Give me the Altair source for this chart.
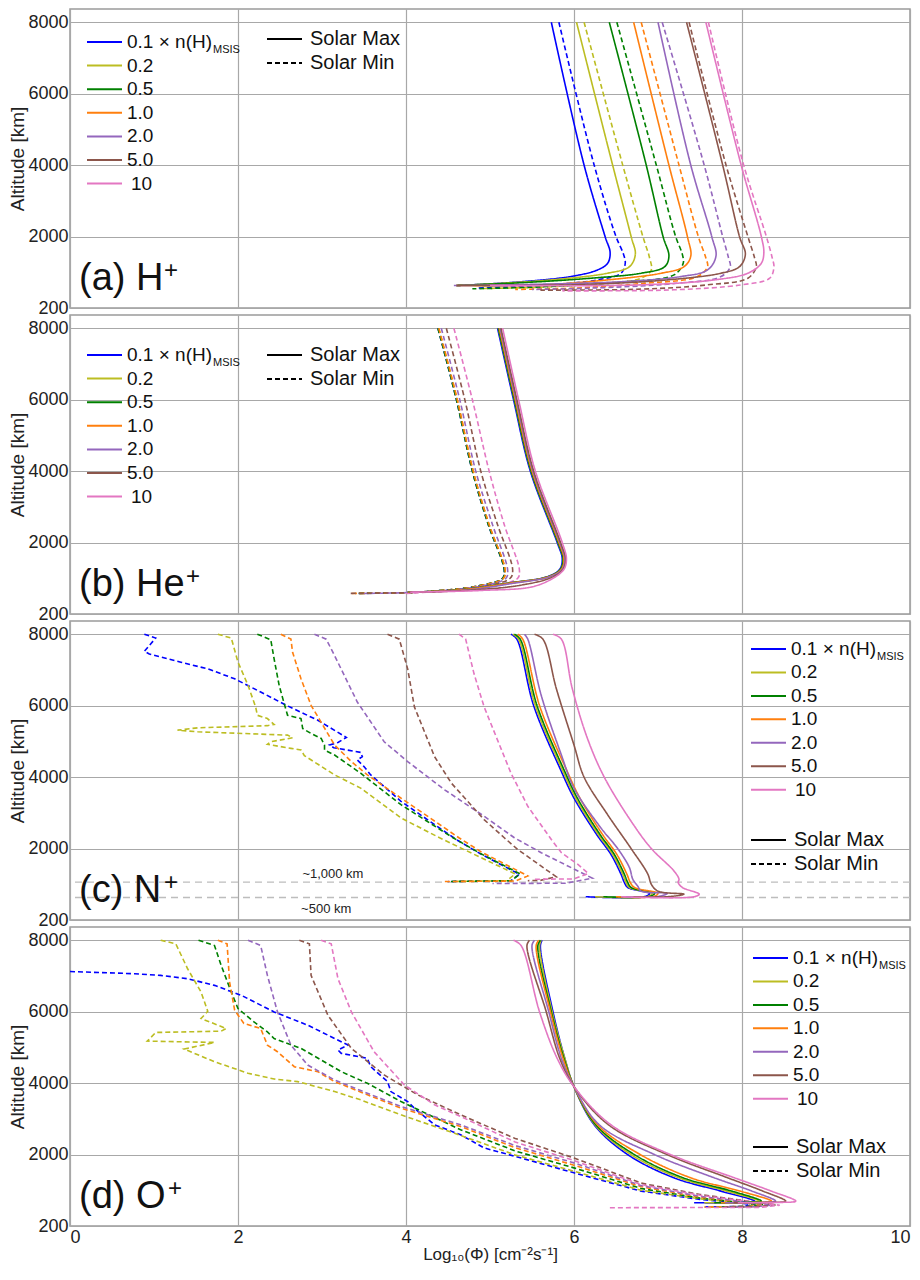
import altair as alt
import pandas as pd

FACTORS = ["0.1", "0.2", "0.5", "1.0", "2.0", "5.0", "10"]
COLORS = ["#0000ff", "#bcbd22", "#008000", "#ff7f0e", "#9467bd", "#8c564b", "#e377c2"]
LEGEND_LABELS = ["0.1 × n(H)", "0.2", "0.5", "1.0", "2.0", "5.0", "10"]

# (x = log10 flux, altitude km) points, top to bottom
# (a) H+
H_MAX = {
    "0.1": [(5.73, 8000), (6.12, 4000), (6.37, 2000), (6.43, 1550), (6.40, 1250), (6.28, 1066), (5.96, 880), (5.40, 740), (4.93, 667), (4.60, 630)],
    "0.2": [(6.03, 8000), (6.46, 4000), (6.68, 2000), (6.73, 1500), (6.66, 1157), (6.40, 974), (5.73, 787), (5.01, 676), (4.60, 630)],
    "0.5": [(6.42, 8000), (6.86, 4000), (7.06, 2000), (7.13, 1450), (7.08, 1157), (6.80, 974), (6.20, 834), (5.41, 713), (4.60, 630)],
    "1.0": [(6.71, 8000), (7.13, 4000), (7.35, 2000), (7.39, 1450), (7.31, 1157), (7.04, 974), (6.40, 787), (5.61, 648), (4.60, 630)],
    "2.0": [(7.00, 8000), (7.39, 4000), (7.64, 2000), (7.69, 1450), (7.59, 1066), (7.27, 880), (6.60, 740), (5.21, 648), (4.57, 630)],
    "5.0": [(7.34, 8000), (7.77, 4000), (7.97, 2000), (8.04, 1500), (7.97, 1157), (7.75, 974), (7.11, 787), (6.00, 648), (4.60, 630)],
    "10": [(7.57, 8000), (7.99, 4000), (8.23, 2000), (8.26, 1550), (8.23, 1252), (8.07, 974), (7.67, 787), (6.80, 648), (5.00, 630)],
}
H_MIN = {
    "0.1": [(5.82, 8000), (6.24, 4000), (6.50, 2000), (6.59, 1500), (6.61, 1252), (6.56, 974), (6.28, 787), (5.73, 648), (5.21, 584), (4.85, 560)],
    "0.2": [(6.12, 8000), (6.58, 4000), (6.82, 2000), (6.90, 1400), (6.92, 1066), (6.80, 834), (6.32, 685), (5.61, 584), (4.90, 545)],
    "0.5": [(6.51, 8000), (6.98, 4000), (7.21, 2000), (7.29, 1500), (7.30, 1252), (7.19, 926), (6.60, 731), (5.61, 592), (4.79, 537)],
    "1.0": [(6.80, 8000), (7.25, 4000), (7.48, 2000), (7.57, 1400), (7.59, 1157), (7.47, 880), (6.80, 685), (6.00, 556), (5.30, 520)],
    "2.0": [(7.05, 8000), (7.55, 4000), (7.77, 2000), (7.84, 1400), (7.86, 1157), (7.75, 880), (7.19, 685), (6.20, 556), (5.50, 520)],
    "5.0": [(7.37, 8000), (7.81, 4000), (8.07, 2000), (8.15, 1400), (8.17, 1157), (8.07, 834), (7.59, 648), (6.80, 528), (5.60, 500)],
    "10": [(7.60, 8000), (8.02, 4000), (8.29, 2000), (8.36, 1400), (8.38, 1150), (8.33, 834), (7.99, 648), (7.19, 509), (5.86, 481)],
}

# (b) He+
HE_MAX = {
    "0.1": [(5.09, 8000), (5.28, 6000), (5.48, 4000), (5.80, 2000), (5.86, 1550), (5.83, 1250), (5.68, 1043), (5.20, 860), (4.73, 700), (4.30, 630), (4.02, 610)],
    "0.2": [(5.10, 8000), (5.29, 6000), (5.49, 4000), (5.81, 2000), (5.87, 1550), (5.84, 1250), (5.69, 1043), (5.21, 860), (4.74, 700), (4.30, 630), (4.02, 610)],
    "0.5": [(5.10, 8000), (5.29, 6000), (5.49, 4000), (5.81, 2000), (5.87, 1550), (5.84, 1250), (5.69, 1043), (5.22, 860), (4.75, 700), (4.31, 630), (4.03, 610)],
    "1.0": [(5.11, 8000), (5.30, 6000), (5.50, 4000), (5.82, 2000), (5.88, 1550), (5.85, 1250), (5.70, 1043), (5.23, 860), (4.76, 700), (4.32, 630), (4.03, 610)],
    "2.0": [(5.12, 8000), (5.31, 6000), (5.51, 4000), (5.83, 2000), (5.89, 1550), (5.86, 1250), (5.71, 1043), (5.25, 850), (4.80, 690), (4.33, 625), (4.04, 610)],
    "5.0": [(5.13, 8000), (5.32, 6000), (5.52, 4000), (5.84, 2000), (5.90, 1550), (5.87, 1250), (5.73, 1020), (5.35, 800), (4.85, 680), (4.33, 620), (4.04, 605)],
    "10": [(5.15, 8000), (5.34, 6000), (5.54, 4000), (5.86, 2000), (5.91, 1550), (5.88, 1250), (5.75, 1000), (5.50, 760), (4.90, 660), (4.30, 620), (4.05, 610)],
}
HE_MIN = {
    "0.1": [(4.38, 8000), (4.60, 6000), (4.79, 4000), (4.98, 2500), (5.17, 1230), (5.15, 1000), (4.81, 765), (4.34, 645), (4.02, 600), (3.40, 575)],
    "0.2": [(4.39, 8000), (4.61, 6000), (4.80, 4000), (4.99, 2500), (5.18, 1230), (5.16, 1000), (4.82, 765), (4.35, 645), (4.03, 600), (3.45, 575)],
    "0.5": [(4.38, 8000), (4.60, 6000), (4.79, 4000), (4.98, 2500), (5.17, 1230), (5.15, 1000), (4.81, 765), (4.34, 645), (4.02, 600), (3.40, 578)],
    "1.0": [(4.39, 8000), (4.61, 6000), (4.80, 4000), (4.99, 2500), (5.18, 1230), (5.16, 1000), (4.82, 765), (4.35, 645), (4.03, 600), (3.33, 575)],
    "2.0": [(4.42, 8000), (4.64, 6000), (4.83, 4000), (5.03, 2500), (5.21, 1230), (5.19, 1000), (4.86, 765), (4.40, 645), (4.05, 600), (3.50, 575)],
    "5.0": [(4.48, 8000), (4.70, 6000), (4.89, 4000), (5.09, 2500), (5.27, 1230), (5.24, 1000), (4.92, 770), (4.45, 650), (4.05, 600), (3.33, 578)],
    "10": [(4.57, 8000), (4.79, 6000), (4.99, 4000), (5.17, 2500), (5.35, 1230), (5.33, 1000), (5.00, 770), (4.55, 650), (4.10, 590), (4.00, 575)],
}

# (c) N+
N_MAX = {
    "0.1": [(5.25, 8000), (5.32, 7860), (5.52, 6000), (5.85, 4156), (6.00, 3414), (6.27, 2393), (6.44, 1836), (6.56, 1280), (6.60, 1049), (6.64, 910), (6.90, 745), (6.85, 660), (6.14, 651)],
    "0.2": [(5.27, 8000), (5.34, 7860), (5.54, 6000), (5.87, 4156), (6.02, 3414), (6.29, 2393), (6.46, 1836), (6.58, 1280), (6.62, 1049), (6.66, 910), (6.93, 745), (6.88, 660), (6.25, 651)],
    "0.5": [(5.29, 8000), (5.36, 7860), (5.56, 6000), (5.89, 4156), (6.04, 3414), (6.31, 2393), (6.48, 1836), (6.60, 1280), (6.64, 1049), (6.68, 910), (6.96, 745), (6.90, 660), (6.35, 651)],
    "1.0": [(5.33, 8000), (5.39, 7860), (5.59, 6000), (5.92, 4156), (6.07, 3414), (6.34, 2393), (6.51, 1836), (6.63, 1280), (6.67, 1049), (6.72, 910), (7.00, 745), (6.95, 660), (6.50, 651)],
    "2.0": [(5.41, 8000), (5.45, 7860), (5.61, 6287), (5.85, 4618), (6.00, 3692), (6.32, 2579), (6.52, 2000), (6.66, 1466), (6.70, 1141), (6.76, 945), (6.80, 807), (7.11, 745), (7.00, 655), (6.60, 651)],
    "5.0": [(5.53, 8000), (5.63, 7860), (5.79, 6474), (6.00, 4897), (6.12, 4000), (6.40, 2949), (6.68, 2000), (6.88, 1280), (6.92, 1001), (7.00, 807), (7.31, 724), (7.11, 651), (6.70, 651)],
    "10": [(5.75, 8000), (5.85, 7860), (5.98, 6474), (6.16, 5083), (6.36, 4000), (6.68, 2765), (6.92, 2000), (7.19, 1374), (7.25, 1141), (7.24, 1050), (7.29, 910), (7.49, 724), (7.43, 651), (6.56, 651)],
}
N_MIN = {
    "0.1": [(0.885, 8000), (1.02, 7892), (0.885, 7522), (0.944, 7447), (1.32, 7216), (1.64, 7030), (1.96, 6752), (2.27, 6381), (2.59, 5993), (2.95, 5592), (3.29, 5111), (3.19, 4971), (3.09, 4896), (3.14, 4824), (3.46, 4693), (3.48, 4573), (3.42, 4479), (3.50, 4295), (3.58, 4062), (3.94, 3322), (4.60, 2250), (4.88, 1860), (5.35, 1280), (5.25, 1100), (4.50, 1077)],
    "0.2": [(1.76, 8000), (1.92, 7892), (2.00, 7216), (2.12, 6566), (2.21, 5965), (2.23, 5731), (2.35, 5639), (2.43, 5472), (2.35, 5440), (1.52, 5380), (1.28, 5314), (1.52, 5268), (2.59, 5175), (2.65, 5101), (2.39, 4990), (2.35, 4916), (2.63, 4804), (2.75, 4758), (2.79, 4601), (3.15, 4062), (3.46, 3692), (3.94, 2857), (4.40, 2302), (4.80, 1850), (5.30, 1290), (5.20, 1100), (4.55, 1077)],
    "0.5": [(2.23, 8000), (2.39, 7846), (2.43, 7308), (2.49, 6566), (2.55, 6057), (2.59, 5731), (2.75, 5639), (2.77, 5360), (2.87, 5222), (2.99, 5083), (3.03, 4896), (3.03, 4758), (3.15, 4619), (3.46, 4109), (3.94, 3228), (4.56, 2302), (4.88, 1870), (5.36, 1290), (5.25, 1100), (4.50, 1077)],
    "1.0": [(2.51, 8000), (2.63, 7862), (2.65, 7494), (2.75, 6752), (2.87, 6010), (3.01, 5453), (3.15, 4896), (3.35, 4434), (3.54, 4062), (3.94, 3414), (4.63, 2302), (4.90, 1900), (5.45, 1235), (5.30, 1090), (4.45, 1077)],
    "2.0": [(2.91, 8000), (3.05, 7862), (3.15, 7401), (3.42, 6103), (3.74, 4990), (4.02, 4434), (4.46, 3644), (4.93, 2904), (5.29, 2302), (5.61, 1883), (6.22, 1169), (5.90, 1030), (5.03, 1021)],
    "5.0": [(3.78, 8000), (3.92, 7862), (4.02, 7030), (4.10, 5965), (4.34, 4573), (4.54, 3831), (4.93, 2810), (5.17, 2302), (5.33, 1975), (5.79, 1207), (5.60, 1110), (5.45, 1100)],
    "10": [(4.63, 8000), (4.71, 7865), (4.81, 6891), (4.93, 5965), (5.09, 5035), (5.25, 4109), (5.45, 3183), (5.73, 2253), (5.85, 1883), (6.05, 1550), (6.17, 1300), (6.00, 1150), (5.52, 1141)],
}

# (d) O+
O_MAX = {
    "0.1": [(5.62, 8000), (5.60, 7850), (5.75, 5993), (5.89, 4693), (6.00, 3902), (6.24, 2834), (6.64, 1998), (7.19, 1349), (7.75, 976), (8.15, 697), (8.00, 660), (7.43, 650)],
    "0.2": [(5.61, 8000), (5.59, 7850), (5.74, 5993), (5.89, 4693), (6.00, 3902), (6.25, 2834), (6.68, 1998), (7.25, 1349), (7.82, 976), (8.20, 697), (8.05, 660), (7.55, 650)],
    "0.5": [(5.60, 8000), (5.57, 7850), (5.73, 5993), (5.88, 4693), (6.00, 3902), (6.26, 2834), (6.72, 1998), (7.30, 1349), (7.88, 976), (8.23, 697), (8.10, 660), (7.67, 650)],
    "1.0": [(5.58, 8000), (5.55, 7850), (5.72, 5993), (5.87, 4693), (6.00, 3902), (6.28, 2834), (6.79, 1998), (7.39, 1349), (7.98, 976), (8.35, 697), (8.20, 660), (7.75, 650)],
    "2.0": [(5.53, 8000), (5.50, 7850), (5.70, 5993), (5.85, 4693), (6.00, 3902), (6.30, 2834), (6.96, 1998), (7.67, 1349), (8.12, 976), (8.40, 697), (8.25, 660), (7.80, 650)],
    "5.0": [(5.47, 8000), (5.44, 7850), (5.67, 5993), (5.83, 4693), (6.00, 3902), (6.41, 2834), (7.11, 1998), (7.83, 1349), (8.25, 976), (8.52, 697), (8.35, 660), (7.90, 650)],
    "10": [(5.28, 8000), (5.37, 7850), (5.59, 5993), (5.80, 4693), (6.00, 3902), (6.44, 2834), (7.15, 1998), (7.91, 1349), (8.35, 976), (8.64, 697), (8.45, 660), (7.95, 650)],
}
O_MIN = {
    "0.1": [(0.00, 7124), (0.77, 7062), (1.08, 7015), (1.40, 6922), (1.72, 6736), (2.04, 6457), (2.43, 5993), (2.83, 5622), (3.31, 5064), (3.19, 4925), (3.23, 4832), (3.54, 4693), (3.58, 4460), (3.78, 4042), (3.82, 3763), (4.02, 3484), (4.12, 3252), (4.34, 2834), (4.65, 2555), (4.93, 2185), (5.30, 1950), (6.00, 1488), (6.80, 976), (7.50, 743), (8.15, 600), (8.00, 545), (7.55, 535)],
    "0.2": [(1.08, 8000), (1.26, 7898), (1.40, 7201), (1.56, 6550), (1.64, 6012), (1.56, 5808), (1.86, 5529), (1.80, 5454), (1.02, 5418), (0.92, 5176), (1.72, 5139), (1.36, 4953), (1.72, 4599), (2.12, 4275), (2.43, 4116), (2.71, 4042), (3.15, 3763), (3.46, 3531), (3.94, 3113), (4.65, 2536), (5.30, 1990), (6.00, 1534), (6.80, 1000), (7.50, 760), (8.20, 600), (8.05, 545), (7.60, 535)],
    "0.5": [(1.53, 8000), (1.72, 7851), (1.80, 7294), (1.92, 6550), (2.00, 6087), (2.19, 5715), (2.35, 5436), (2.43, 5250), (2.75, 4972), (2.99, 4646), (3.23, 4320), (3.54, 3996), (3.94, 3484), (4.65, 2695), (5.30, 2100), (6.00, 1627), (6.80, 1050), (7.50, 780), (8.25, 600), (8.10, 545), (7.70, 535)],
    "1.0": [(1.76, 8000), (1.87, 7898), (1.90, 6829), (1.96, 6040), (2.07, 5669), (2.27, 5529), (2.35, 5064), (2.47, 4878), (2.67, 4460), (2.95, 4320), (3.15, 4042), (3.94, 3299), (4.65, 2787), (5.30, 2190), (6.00, 1702), (6.80, 1100), (7.50, 805), (8.30, 590), (8.10, 540), (7.55, 530)],
    "2.0": [(2.12, 8000), (2.27, 7851), (2.35, 7015), (2.47, 5993), (2.63, 5064), (2.83, 4506), (3.15, 4088), (3.54, 3717), (3.94, 3345), (4.65, 2834), (5.30, 2250), (6.00, 1767), (6.80, 1130), (7.50, 830), (8.35, 585), (8.15, 540), (7.80, 530)],
    "5.0": [(2.73, 8000), (2.85, 7898), (2.87, 7015), (3.07, 5900), (3.35, 4972), (3.74, 4228), (4.14, 3670), (4.65, 3113), (5.30, 2450), (6.00, 1906), (6.80, 1200), (7.50, 882), (8.40, 590), (8.20, 545), (7.80, 540)],
    "10": [(2.99, 8000), (3.11, 7898), (3.19, 6922), (3.35, 5993), (3.62, 4878), (3.98, 3949), (4.34, 3392), (4.65, 3067), (5.30, 2350), (6.00, 1832), (6.80, 1160), (7.50, 860), (8.45, 580), (8.20, 520), (6.42, 512)],
}

# (c) reference altitudes and their notes
REF_ALTS = [1060, 630]
REF_NOTES = ["~1,000 km", "~500 km"]
REF_NOTE_POS = [(3.13, 1290), (3.05, 300)]

X_TICKS = [0, 2, 4, 6, 8, 10]
Y_TICKS = [0, 2000, 4000, 6000, 8000]

W, H = 840, 299
Y_TOP = 8370
FONT = "Liberation Sans"


def px(v):
    # pixels from the plot's left edge -> log flux
    return v / W * 10


def py(v):
    # pixels from the plot's top edge -> altitude
    return (H - v) / H * Y_TOP


def frame(curves, cond):
    rows = []
    for f, pts in curves.items():
        for i, (x, a) in enumerate(pts):
            rows.append({"factor": f, "cond": cond, "i": i, "x": x, "alt": a})
    return pd.DataFrame(rows)


def panel(max_c, min_c, name, sup, sup_dx, leg, bottom=False, refs=False, smooth_min=True):
    xaxis = alt.Axis(values=X_TICKS, grid=True, labels=bottom, labelFlush=True, labelFlushOffset=0,
                     labelFontSize=18, labelPadding=2, titleFontSize=17, titlePadding=0)
    xtitle = "Log₁₀(Φ) [cm⁻²s⁻¹]" if bottom else None
    yaxis = alt.Axis(values=Y_TICKS, grid=True, labelExpr="datum.value == 0 ? '200' : datum.value",
                     labelFontSize=18, labelPadding=2, titleFontSize=19, titlePadding=0)

    def X(field="x:Q"):
        return alt.X(field, scale=alt.Scale(domain=[0, 10], nice=False), axis=xaxis, title=xtitle)

    def Y(field="alt:Q"):
        return alt.Y(field, scale=alt.Scale(domain=[0, Y_TOP], nice=False), axis=yaxis, title="Altitude [km]")

    color = alt.Color("factor:N", scale=alt.Scale(domain=FACTORS, range=COLORS), legend=None)
    dash = alt.StrokeDash("cond:N", scale=alt.Scale(domain=["max", "min"], range=[[1, 0], [5, 3]]), legend=None)

    layers = []

    if refs:
        layers.append(
            alt.Chart(pd.DataFrame({"alt": REF_ALTS}))
            .mark_rule(color="#bdbdbd", strokeWidth=1.3, strokeDash=[7, 5])
            .encode(y=Y())
        )
        notes = pd.DataFrame({"x": [p[0] for p in REF_NOTE_POS], "alt": [p[1] for p in REF_NOTE_POS], "t": REF_NOTES})
        layers.append(
            alt.Chart(notes)
            .mark_text(font=FONT, fontSize=13, color="#222222")
            .encode(x=X(), y=Y(), text="t:N")
        )

    lows = frame(min_c, "min")
    highs = frame(max_c, "max")
    layers.append(
        alt.Chart(lows)
        .mark_line(strokeWidth=1.6, clip=True, interpolate="catmull-rom" if smooth_min else "linear")
        .encode(x=X(), y=Y(), color=color, strokeDash=dash, order=alt.Order("i:Q"))
    )
    layers.append(
        alt.Chart(highs)
        .mark_line(strokeWidth=1.6, clip=True, interpolate="catmull-rom")
        .encode(x=X(), y=Y(), color=color, strokeDash=dash, order=alt.Order("i:Q"))
    )

    # colour key
    lx, ty0, step, tx = leg["lx"], leg["y0"], leg["dy"], leg["tx"]
    key = pd.DataFrame({
        "factor": FACTORS,
        "x": [px(lx)] * 7,
        "x2": [px(lx + 35)] * 7,
        "alt": [py(ty0 + k * step) for k in range(7)],
        "tx": [px(tx + (4 if f == "10" else 0)) for f in FACTORS],
        "t": LEGEND_LABELS,
    })
    layers.append(
        alt.Chart(key).mark_rule(strokeWidth=2).encode(x=X(), x2="x2:Q", y=Y(), color=color)
    )
    layers.append(
        alt.Chart(key)
        .mark_text(font=FONT, fontSize=19, align="left", baseline="middle", color="#111111")
        .encode(x=X("tx:Q"), y=Y(), text="t:N")
    )
    sub = pd.DataFrame({"x": [px(tx + 86)], "alt": [py(ty0 + 8)], "t": ["MSIS"]})
    layers.append(
        alt.Chart(sub)
        .mark_text(font=FONT, fontSize=11, align="left", baseline="middle", color="#111111")
        .encode(x=X(), y=Y(), text="t:N")
    )

    # solar max / min key
    sx, sy = leg["sx"], leg["sy"]
    solar = pd.DataFrame({
        "cond": ["max", "min"],
        "x": [px(sx)] * 2,
        "x2": [px(sx + 35)] * 2,
        "alt": [py(sy), py(sy + 24)],
        "tx": [px(sx + 43)] * 2,
        "t": ["Solar Max", "Solar Min"],
    })
    layers.append(
        alt.Chart(solar).mark_rule(strokeWidth=2, color="black")
        .encode(x=X(), x2="x2:Q", y=Y(), strokeDash=dash)
    )
    layers.append(
        alt.Chart(solar)
        .mark_text(font=FONT, fontSize=20, align="left", baseline="middle", color="#111111")
        .encode(x=X("tx:Q"), y=Y(), text="t:N")
    )

    # panel name with superscript
    tag = pd.DataFrame({"x": [px(9)], "alt": [py(H - 18)], "t": [name]})
    layers.append(
        alt.Chart(tag)
        .mark_text(font=FONT, fontSize=38, align="left", baseline="alphabetic", color="#111111")
        .encode(x=X(), y=Y(), text="t:N")
    )
    tag_sup = pd.DataFrame({"x": [px(9 + sup_dx)], "alt": [py(H - 30)], "t": [sup]})
    layers.append(
        alt.Chart(tag_sup)
        .mark_text(font=FONT, fontSize=24, align="left", baseline="alphabetic", color="#111111")
        .encode(x=X(), y=Y(), text="t:N")
    )

    return alt.layer(*layers).properties(width=W, height=H)


LEG_LEFT_A = {"lx": 17, "tx": 57, "y0": 33, "dy": 23.6, "sx": 197, "sy": 30}
LEG_LEFT_B = {"lx": 17, "tx": 57, "y0": 40, "dy": 23.6, "sx": 197, "sy": 40}
LEG_RIGHT_C = {"lx": 681, "tx": 721, "y0": 28, "dy": 23.45, "sx": 681, "sy": 219}
LEG_RIGHT_D = {"lx": 683, "tx": 723, "y0": 31, "dy": 23.45, "sx": 683, "sy": 220}

chart = alt.vconcat(
    panel(H_MAX, H_MIN, "(a) H", "+", 85, LEG_LEFT_A),
    panel(HE_MAX, HE_MIN, "(b) He", "+", 107, LEG_LEFT_B),
    panel(N_MAX, N_MIN, "(c) N", "+", 85, LEG_RIGHT_C, refs=True, smooth_min=False),
    panel(O_MAX, O_MIN, "(d) O", "+", 89, LEG_RIGHT_D, bottom=True, smooth_min=False),
    spacing=7,
    bounds="flush",
).properties(
    padding={"left": 0, "top": 0, "right": 0, "bottom": 0}
).configure_view(
    stroke="#9a9a9a", strokeWidth=1.5
).configure_axis(
    domain=False, ticks=False, gridColor="#a8a8a8", gridWidth=1.2,
    labelFont=FONT, titleFont=FONT, labelColor="#222222", titleColor="#222222",
    titleFontWeight="normal",
)

chart.save("out.html", embed_options={"renderer": "svg", "actions": False})
